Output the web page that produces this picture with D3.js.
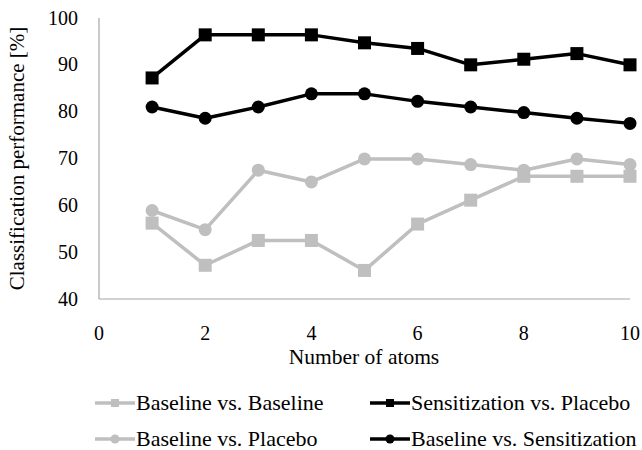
<!DOCTYPE html>
<html>
<head>
<meta charset="utf-8">
<script src="https://cdn.jsdelivr.net/npm/d3@7"></script>
<style>
  body { margin: 0; background: #fff; }
  svg text { font-family: "Liberation Serif", "Times New Roman", serif; fill: #000; }
</style>
</head>
<body>
<svg id="chart" width="642" height="450"></svg>
<script>
// datos
const atoms = [1, 2, 3, 4, 5, 6, 7, 8, 9, 10]
const baseVsBase = [56.2, 47.2, 52.5, 52.5, 46.1, 56.0, 61.1, 66.2, 66.2, 66.2]
const sensVsPlacebo = [87.2, 96.4, 96.4, 96.4, 94.7, 93.5, 90.0, 91.2, 92.4, 90.0]
const baseVsPlacebo = [58.9, 54.8, 67.5, 65.0, 69.9, 69.9, 68.7, 67.5, 69.9, 68.7]
const baseVsSens = [81.0, 78.6, 81.0, 83.8, 83.8, 82.2, 81.0, 79.8, 78.6, 77.5]
const xTicks = [0, 2, 4, 6, 8, 10]
const yTicks = [40, 50, 60, 70, 80, 90, 100]

const series = [
  { name: 'Baseline vs. Baseline', values: baseVsBase, color: '#bfbfbf', marker: 'square' },
  { name: 'Sensitization vs. Placebo', values: sensVsPlacebo, color: '#000000', marker: 'square' },
  { name: 'Baseline vs. Placebo', values: baseVsPlacebo, color: '#bfbfbf', marker: 'circle' },
  { name: 'Baseline vs. Sensitization', values: baseVsSens, color: '#000000', marker: 'circle' }
]

const svg = d3.select('#chart')
const m = { left: 99, right: 630, top: 18, bottom: 299 }

const x = d3.scaleLinear().domain([0, 10]).range([m.left, m.right])
const y = d3.scaleLinear().domain([40, 100]).range([m.bottom, m.top])

/*EJES*/
svg.append('line')
  .attr('x1', m.left).attr('x2', m.left)
  .attr('y1', m.top).attr('y2', m.bottom)
  .attr('stroke', '#a6a6a6').attr('stroke-width', 1.2)
svg.append('line')
  .attr('x1', m.left).attr('x2', m.right)
  .attr('y1', m.bottom).attr('y2', m.bottom)
  .attr('stroke', '#a6a6a6').attr('stroke-width', 1.2)

svg.selectAll('.ytick')
  .data(yTicks)
  .join('text')
  .attr('class', 'ytick')
  .attr('x', 78)
  .attr('y', d => y(d))
  .attr('dy', '0.33em')
  .attr('text-anchor', 'end')
  .style('font-size', '20px')
  .text(d => d)

svg.selectAll('.xtick')
  .data(xTicks)
  .join('text')
  .attr('class', 'xtick')
  .attr('x', d => x(d))
  .attr('y', 333)
  .attr('dy', '0.33em')
  .attr('text-anchor', 'middle')
  .style('font-size', '20px')
  .text(d => d)

svg.append('text')
  .attr('x', 364)
  .attr('y', 357)
  .attr('dy', '0.33em')
  .attr('text-anchor', 'middle')
  .style('font-size', '21.5px')
  .text('Number of atoms')

svg.append('text')
  .attr('transform', `translate(17,${(m.top + m.bottom) / 2}) rotate(-90)`)
  .attr('dy', '0.33em')
  .attr('text-anchor', 'middle')
  .style('font-size', '21px')
  .text('Classification performance [%]')

/*LÍNEAS*/
const line = d3.line()
  .x((d, i) => x(atoms[i]))
  .y(d => y(d))

// primero las grises, después las negras encima
const order = [0, 2, 1, 3]
order.forEach(k => {
  const s = series[k]
  const g = svg.append('g')
  g.append('path')
    .attr('d', line(s.values))
    .attr('fill', 'none')
    .attr('stroke', s.color)
    .attr('stroke-width', 3.5)
    .attr('stroke-linejoin', 'round')
  if (s.marker === 'square') {
    g.selectAll('rect')
      .data(s.values)
      .join('rect')
      .attr('x', (d, i) => x(atoms[i]) - 6.5)
      .attr('y', d => y(d) - 6.5)
      .attr('width', 13).attr('height', 13)
      .attr('fill', s.color)
  } else {
    g.selectAll('circle')
      .data(s.values)
      .join('circle')
      .attr('cx', (d, i) => x(atoms[i]))
      .attr('cy', d => y(d))
      .attr('r', 6.5)
      .attr('fill', s.color)
  }
})

/*LEYENDA*/
const legX = [95, 370]
const legY = [403, 439]
series.forEach((s, k) => {
  const lx = legX[k % 2]
  const ly = legY[Math.floor(k / 2)]
  const g = svg.append('g')
  g.append('line')
    .attr('x1', lx).attr('x2', lx + 40)
    .attr('y1', ly).attr('y2', ly)
    .attr('stroke', s.color).attr('stroke-width', 3.5)
  if (s.marker === 'square') {
    g.append('rect')
      .attr('x', lx + 16).attr('y', ly - 4)
      .attr('width', 8).attr('height', 8)
      .attr('fill', s.color)
  } else {
    g.append('circle')
      .attr('cx', lx + 20).attr('cy', ly)
      .attr('r', 4.5)
      .attr('fill', s.color)
  }
  g.append('text')
    .attr('x', lx + 41)
    .attr('y', ly)
    .attr('dy', '0.33em')
    .style('font-size', '22px')
    .text(s.name)
})
</script>
</body>
</html>
